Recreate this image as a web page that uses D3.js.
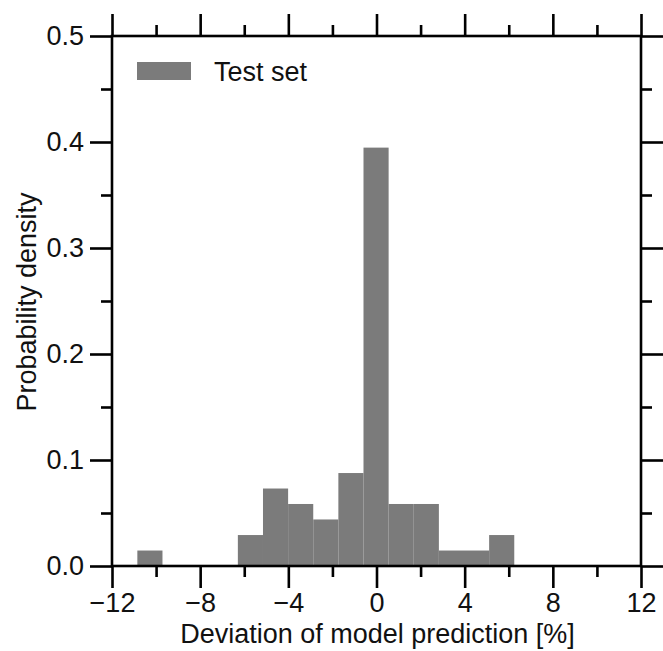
<!DOCTYPE html>
<html>
<head>
<meta charset="utf-8">
<script src="https://cdn.jsdelivr.net/npm/d3@7"></script>
<style>
  html, body { margin: 0; padding: 0; background: #fff; }
  svg { display: block; }
  text { font-family: "Liberation Sans", Arial, sans-serif; fill: #111; }
</style>
</head>
<body>
<script>
// ---- data ----
const binEdges = [-10.85, -9.71, -8.57, -7.43, -6.29, -5.15, -4.01, -2.87, -1.73, -0.59, 0.55, 1.69, 2.83, 3.97, 5.11, 6.25];
const density  = [0.0146, 0, 0, 0, 0.0292, 0.0731, 0.0585, 0.0439, 0.0877, 0.3947, 0.0585, 0.0585, 0.0146, 0.0146, 0.0292];
const xMajorTicks = [-12, -8, -4, 0, 4, 8, 12];
const xMinorTicks = [-10, -6, -2, 2, 6, 10];
const yMajorTicks = [0, 0.1, 0.2, 0.3, 0.4, 0.5];
const yMinorTicks = [0.05, 0.15, 0.25, 0.35, 0.45];
const seriesName = "Test set";
const xTitle = "Deviation of model prediction [%]";
const yTitle = "Probability density";

const W = 663, H = 651;
const m = { left: 112, right: 22, top: 36, bottom: 85 };
const iw = W - m.left - m.right, ih = H - m.top - m.bottom;

const svg = d3.select("body").append("svg").attr("width", W).attr("height", H);
const g = svg.append("g").attr("transform", `translate(${m.left},${m.top})`);

const x = d3.scaleLinear().domain([-12, 12]).range([0, iw]);
const y = d3.scaleLinear().domain([0, 0.5]).range([ih, 0]);

const bins = density.map((d, i) => ({ x0: binEdges[i], x1: binEdges[i + 1], v: d }));

g.selectAll("rect.bar").data(bins.filter(b => b.v > 0)).join("rect")
  .attr("class", "bar")
  .attr("x", d => x(d.x0))
  .attr("width", d => x(d.x1) - x(d.x0))
  .attr("y", d => y(d.v))
  .attr("height", d => y(0) - y(d.v))
  .attr("fill", "#7b7b7b");

const sw = 2.6;
const fs = "27px";
const minus = s => s.replace("-", "\u2212");

function styleAxis(sel) {
  sel.select(".domain").remove();
  sel.selectAll(".tick line").attr("stroke", "#000").attr("stroke-width", sw);
  sel.selectAll(".tick text").style("font-family", "'Liberation Sans', Arial, sans-serif").attr("fill", "#111");
}

// bottom
g.append("g").attr("transform", `translate(0,${ih})`)
  .call(d3.axisBottom(x).tickValues(xMajorTicks).tickSize(22).tickPadding(5).tickFormat(d => minus(String(d))))
  .call(styleAxis)
  .selectAll("text").style("font-size", fs);
g.append("g").attr("transform", `translate(0,${ih})`)
  .call(d3.axisBottom(x).tickValues(xMinorTicks).tickSize(11).tickFormat(""))
  .call(styleAxis);
// top
g.append("g")
  .call(d3.axisTop(x).tickValues(xMajorTicks).tickSize(22).tickFormat(""))
  .call(styleAxis);
g.append("g")
  .call(d3.axisTop(x).tickValues(xMinorTicks).tickSize(11).tickFormat(""))
  .call(styleAxis);
// left
g.append("g")
  .call(d3.axisLeft(y).tickValues(yMajorTicks).tickSize(22).tickPadding(6).tickFormat(d3.format(".1f")))
  .call(styleAxis)
  .selectAll("text").style("font-size", fs);
g.append("g")
  .call(d3.axisLeft(y).tickValues(yMinorTicks).tickSize(11).tickFormat(""))
  .call(styleAxis);
// right
g.append("g").attr("transform", `translate(${iw},0)`)
  .call(d3.axisRight(y).tickValues(yMajorTicks).tickSize(22).tickFormat(""))
  .call(styleAxis);
g.append("g").attr("transform", `translate(${iw},0)`)
  .call(d3.axisRight(y).tickValues(yMinorTicks).tickSize(11).tickFormat(""))
  .call(styleAxis);

// frame
g.append("rect").attr("x", 0).attr("y", 0).attr("width", iw).attr("height", ih)
  .attr("fill", "none").attr("stroke", "#000").attr("stroke-width", sw);

// legend
g.append("rect").attr("x", 137 - m.left).attr("y", 62 - m.top).attr("width", 54).attr("height", 18)
  .attr("fill", "#7b7b7b");
g.append("text").attr("x", 214 - m.left).attr("y", 81 - m.top)
  .style("font-size", fs).text(seriesName);

// axis titles
svg.append("text").attr("x", m.left + iw / 2 + 1).attr("y", 643)
  .attr("text-anchor", "middle").style("font-size", fs).text(xTitle);
svg.append("text").attr("transform", `translate(36,${m.top + ih / 2 + 1}) rotate(-90)`)
  .attr("text-anchor", "middle").style("font-size", fs).text(yTitle);
</script>
</body>
</html>
